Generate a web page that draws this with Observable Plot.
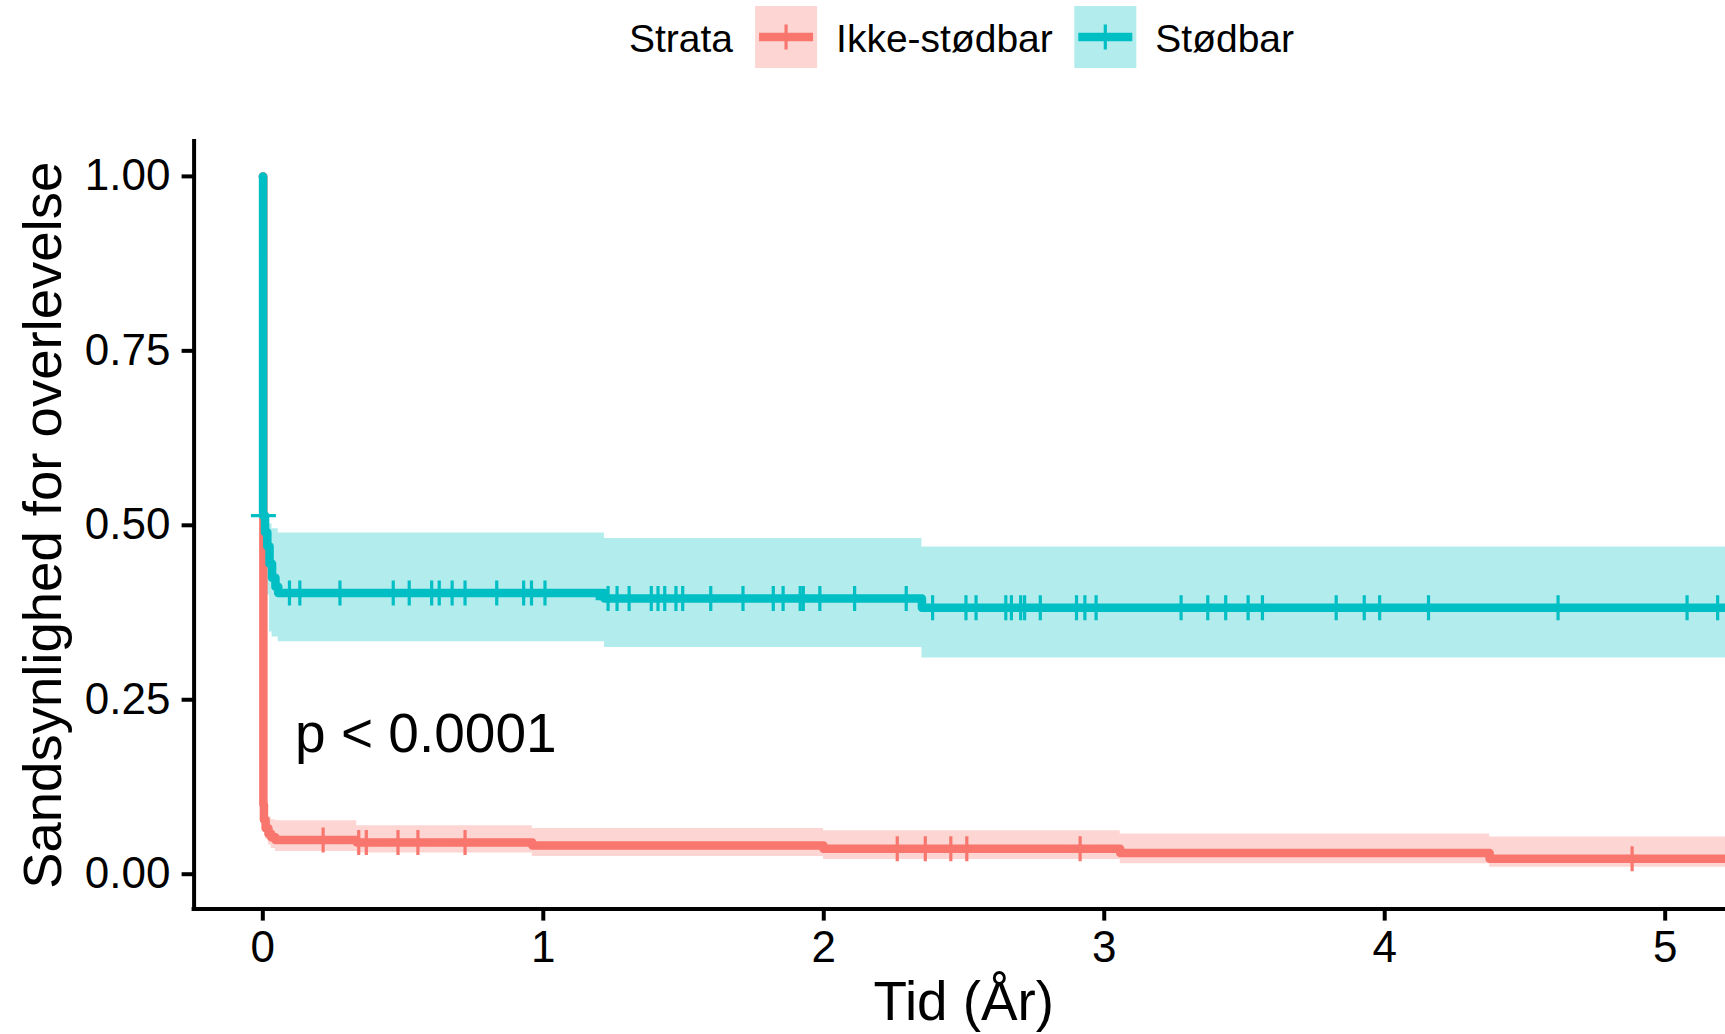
<!DOCTYPE html>
<html>
<head>
<meta charset="utf-8">
<script src="https://cdn.jsdelivr.net/npm/d3@7"></script>
<script src="https://cdn.jsdelivr.net/npm/@observablehq/plot@0.6"></script>
<style>
  html, body { margin: 0; padding: 0; background: #fff; overflow: hidden; }
  #wrap { width: 1725px; height: 1034px; position: relative; font-family: "Liberation Sans", Arial, sans-serif; }
  #legend { display: block; }
  #chart svg { display: block; }
</style>
</head>
<body>
<div id="wrap">
  <svg id="legend" width="1725" height="80"></svg>
  <div id="chart"></div>
</div>
<script>
// ---------- data ----------
const strata = ["Ikke-stødbar", "Stødbar"];
const colors = ["#F8766D", "#00BFC4"];
const legendTitle = "Strata";
const pLabel = "p < 0.0001";
const xLabel = "Tid (År)";
const yLabel = "Sandsynlighed for overlevelse";
const xTicks = [0, 1, 2, 3, 4, 5];
const yTicks = [0, 0.25, 0.5, 0.75, 1];

// Ikke-stødbar (red)
const redTime  = [0,   0.002, 0.004, 0.01,  0.02,  0.03,  0.045,  0.335,  0.961,  1.999,  3.057,  4.374,  5.3];
const redSurv  = [1.0, 0.100, 0.078, 0.066, 0.058, 0.053, 0.049,  0.0455, 0.0413, 0.0365, 0.0303, 0.0222, 0.0222];
const redUpper = [1.0, 0.125, 0.100, 0.090, 0.082, 0.078, 0.0766, 0.0694, 0.0656, 0.0622, 0.0575, 0.0532, 0.0532];
const redLower = [1.0, 0.080, 0.060, 0.050, 0.042, 0.037, 0.0327, 0.0303, 0.0255, 0.0210, 0.0150, 0.0098, 0.0098];
const redCensor = [0.215, 0.342, 0.369, 0.482, 0.553, 0.721, 2.262, 2.362, 2.453, 2.510, 2.914, 4.882];

// Stødbar (teal)
const tealTime  = [0,   0.001, 0.008, 0.016, 0.024, 0.033, 0.045, 0.055, 1.218, 2.35,  5.3];
const tealSurv  = [1.0, 0.514, 0.490, 0.470, 0.445, 0.425, 0.412, 0.403, 0.395, 0.382, 0.382];
const tealUpper = [1.0, 0.580, 0.560, 0.502, 0.502, 0.495, 0.495, 0.489, 0.481, 0.469, 0.469];
const tealLower = [1.0, 0.450, 0.425, 0.400, 0.347, 0.340, 0.340, 0.333, 0.325, 0.310, 0.310];
const tealCensor = [0.002, 0.095, 0.132, 0.275, 0.465, 0.522, 0.602, 0.629, 0.675, 0.721, 0.834, 0.930, 0.958, 1.006,
  1.231, 1.263, 1.306, 1.385, 1.409, 1.433, 1.473, 1.497, 1.597, 1.712, 1.820, 1.855, 1.916, 1.927, 1.986, 2.110, 2.294,
  2.388, 2.507, 2.543, 2.649, 2.669, 2.702, 2.716, 2.772, 2.901, 2.931, 2.971, 3.274, 3.369, 3.433, 3.513, 3.564,
  3.827, 3.927, 3.982, 4.156, 4.618, 5.078, 5.187];

// ---------- build tables ----------
function curveRows(name, t, s, lo, hi) {
  return t.map((time, i) => ({strata: name, time, surv: s[i], lower: lo[i], upper: hi[i]}));
}
function censorRows(name, c, t, s) {
  return c.map(time => ({strata: name, time, surv: s[Math.max(0, d3.bisectRight(t, time) - 1)]}));
}
const curves = [
  ...curveRows(strata[0], redTime, redSurv, redLower, redUpper),
  ...curveRows(strata[1], tealTime, tealSurv, tealLower, tealUpper)
];
const censors = [
  ...censorRows(strata[0], redCensor, redTime, redSurv),
  ...censorRows(strata[1], tealCensor, tealTime, tealSurv)
];

const plusSymbol = {
  draw(context, size) {
    const r = Math.sqrt(size / Math.PI);
    context.moveTo(-r, 0); context.lineTo(r, 0);
    context.moveTo(0, -r); context.lineTo(0, r);
  }
};

const xDomain = [-0.245, 5.215];
const yDomain = [-0.05, 1.05];
const FONT = "'Liberation Sans', Arial, sans-serif";

const chart = Plot.plot({
  width: 1725,
  height: 954,
  marginTop: 61,
  marginBottom: 125.4,
  marginLeft: 193.6,
  marginRight: 0,
  x: {domain: xDomain, label: null},
  y: {domain: yDomain, label: null},
  color: {domain: strata, range: colors},
  style: {fontFamily: FONT, color: "black", background: "white"},
  marks: [
    Plot.areaY(curves, {x: "time", y1: "lower", y2: "upper", z: "strata", fill: "strata", fillOpacity: 0.3, curve: "step-after", clip: true}),
    Plot.line(curves, {x: "time", y: "surv", z: "strata", stroke: "strata", strokeWidth: 8.5, curve: "step-after", strokeLinejoin: "round", clip: true}),
    Plot.dot(censors, {x: "time", y: "surv", stroke: "strata", fill: "none", symbol: plusSymbol, r: 12.5, strokeWidth: 3.2}),
    Plot.text([pLabel], {x: () => 0.115, y: () => 0.2, textAnchor: "start", lineAnchor: "middle", fontSize: 55, fill: "black"}),
    Plot.ruleX([xDomain[0]], {strokeWidth: 4, stroke: "black", strokeLinecap: "square"}),
    Plot.ruleY([yDomain[0]], {strokeWidth: 4, stroke: "black", strokeLinecap: "square"}),
    Plot.axisX({ticks: xTicks, tickSize: 12, tickPadding: 9.4, fontSize: 44, strokeWidth: 4, tickFormat: d3.format("d"), label: null}),
    Plot.axisY({ticks: yTicks, tickSize: 12, tickPadding: 11.6, fontSize: 44, strokeWidth: 4, tickFormat: d3.format(".2f"), label: null}),
    Plot.text([yLabel], {frameAnchor: "left", rotate: -90, dx: -151, textAnchor: "middle", lineAnchor: "middle", fontSize: 54.5, fill: "black"}),
    Plot.text([xLabel], {frameAnchor: "bottom", dx: 4, dy: 93.5, textAnchor: "middle", lineAnchor: "middle", fontSize: 54.8, fill: "black"})
  ]
});
document.getElementById("chart").appendChild(chart);

// ---------- legend ----------
const lg = d3.select("#legend");
const fontSize = 39, baseline = 51.7, boxSize = 62, boxTop = 6;
let xPos = 629;
const title = lg.append("text").attr("x", xPos).attr("y", baseline)
  .attr("font-size", fontSize).attr("font-family", FONT).text(legendTitle);
xPos += title.node().getComputedTextLength() + 22;
strata.forEach((name, i) => {
  const g = lg.append("g");
  g.append("rect").attr("x", xPos).attr("y", boxTop).attr("width", boxSize).attr("height", boxSize)
    .attr("fill", colors[i]).attr("fill-opacity", 0.3);
  g.append("line").attr("x1", xPos + 4).attr("x2", xPos + boxSize - 4).attr("y1", boxTop + 31).attr("y2", boxTop + 31)
    .attr("stroke", colors[i]).attr("stroke-width", 8.5);
  g.append("line").attr("x1", xPos + boxSize / 2).attr("x2", xPos + boxSize / 2).attr("y1", boxTop + 18.5).attr("y2", boxTop + 43.5)
    .attr("stroke", colors[i]).attr("stroke-width", 3.2);
  xPos += boxSize + 19;
  const t = g.append("text").attr("x", xPos).attr("y", baseline)
    .attr("font-size", fontSize).attr("font-family", FONT).text(name);
  xPos += t.node().getComputedTextLength() + 21.5;
});
</script>
</body>
</html>
